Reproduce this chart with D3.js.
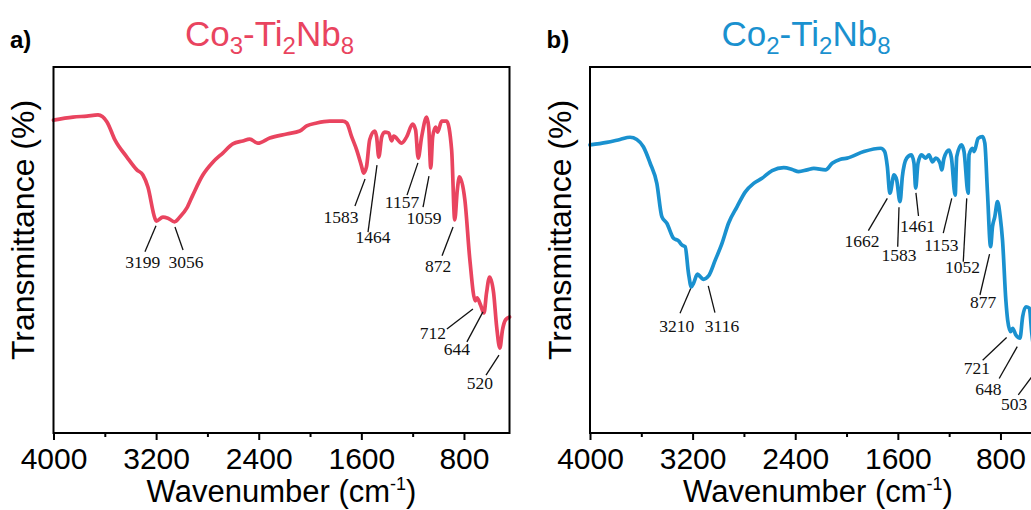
<!DOCTYPE html>
<html>
<head>
<meta charset="utf-8">
<script src="https://cdn.jsdelivr.net/npm/d3@7"></script>
<style>
  body { margin: 0; background: #fff; }
  svg { display: block; }
</style>
</head>
<body>
<svg id="chart" width="1031" height="510"></svg>
<script>
// FTIR spectra of Co3-Ti2Nb8 and Co2-Ti2Nb8

const xTicks = [4000, 3200, 2400, 1600, 800];
const xMinorTicks = [3600, 2800, 2000, 1200];

// Co3-Ti2Nb8 spectrum
const wavenumberA = [4000, 3848, 3739, 3653, 3583, 3521, 3428, 3350, 3303, 3264, 3210, 3199, 3147, 3108, 3056,
  3015, 2960, 2914, 2836, 2758, 2680, 2602, 2524, 2470, 2407, 2314, 2182, 2080, 2026, 1948, 1847, 1746, 1714,
  1675, 1636, 1597, 1583, 1560, 1535, 1496, 1481, 1464, 1441, 1418, 1387, 1364, 1348, 1286, 1247, 1200, 1177,
  1157, 1130, 1091, 1075, 1059, 1044, 1021, 1005, 974, 935, 896, 872, 852, 835, 793, 754, 712, 698, 671, 644,
  624, 600, 569, 545, 520, 500, 476, 445];
const transmittanceA = [85.5, 86.3, 86.6, 86.9, 85.0, 80.1, 75.4, 71.9, 70.5, 67.2, 58.7, 57.9, 59.0, 58.7, 57.7,
  59.0, 61.5, 65.0, 70.5, 74.0, 76.5, 79.0, 79.8, 80.3, 79.2, 80.6, 81.7, 82.5, 83.9, 84.7, 85.2, 85.2, 84.7,
  80.9, 77.3, 72.7, 71.0, 72.7, 80.1, 82.5, 80.9, 75.4, 80.9, 82.2, 82.0, 79.8, 81.1, 79.2, 80.9, 84.4, 82.8,
  75.1, 80.9, 86.3, 83.6, 72.4, 80.9, 83.6, 82.2, 85.2, 85.2, 77.3, 58.2, 66.4, 70.0, 63.7, 47.3, 36.1, 36.9, 35.0, 32.8,
  38.3, 42.6, 38.3, 29.0, 23.2, 28.1, 30.9, 31.7];
const peakLabelsA = [3199, 3056, 1583, 1464, 1157, 1059, 872, 712, 644, 520];

// Co2-Ti2Nb8 spectrum
const wavenumberB = [4000, 3870, 3766, 3688, 3635, 3584, 3531, 3479, 3440, 3401, 3349, 3310, 3284, 3258, 3232,
  3210, 3193, 3162, 3135, 3116, 3076, 3023, 2971, 2920, 2854, 2789, 2724, 2659, 2580, 2490, 2424, 2373, 2307,
  2255, 2164, 2112, 2047, 1995, 1865, 1734, 1703, 1682, 1662, 1630, 1609, 1583, 1565, 1531, 1495, 1474, 1461,
  1443, 1416, 1383, 1357, 1330, 1305, 1271, 1258, 1240, 1201, 1182, 1153, 1141, 1104, 1084, 1052, 1045, 1018,
  1005, 974, 940, 922, 901, 877, 862, 844, 823, 802, 784, 758, 744, 721, 705, 680, 648, 627, 601, 575, 556,
  530, 503, 480, 445];
const transmittanceB = [78.7, 79.4, 80.2, 80.8, 80.2, 78.2, 73.7, 68.2, 59.1, 57.3, 53.2, 52.5, 51.4, 50.9, 43.6,
  39.9, 40.9, 43.4, 42.5, 42.0, 42.9, 47.3, 51.8, 57.3, 61.8, 65.9, 68.2, 69.6, 71.7, 72.5, 72.0, 71.4, 71.9,
  72.3, 71.9, 73.7, 74.8, 75.1, 76.9, 77.8, 76.9, 72.8, 65.5, 70.5, 69.1, 63.2, 70.0, 75.1, 76.0, 73.7, 66.9,
  73.7, 76.0, 75.1, 76.0, 74.1, 75.1, 73.7, 71.9, 75.1, 77.3, 75.1, 65.0, 75.5, 78.7, 76.9, 65.5, 76.0, 77.8,
  76.9, 80.5, 81.0, 79.2, 65.5, 50.9, 56.4, 59.1, 63.2, 59.1, 52.7, 36.3, 30.9, 27.7, 28.6, 26.8, 25.9, 31.8, 34.5, 34.1, 27.3,
  21.0, 18.5, 24.0, 27.0];
const peakLabelsB = [3210, 3116, 1662, 1583, 1461, 1153, 1052, 877, 721, 648, 503];

// Callout layout in data units: leader [w1, t1] -> [w2, t2], label baseline centred at [wt, tt]
const calloutLayoutA = [
  [3201, 56.6, 3287, 49.5, 3305, 45.1],
  [3053, 56.3, 2990, 50.0, 2967, 45.1],
  [1571, 69.4, 1650, 62.0, 1759, 57.4],
  [1478, 73.2, 1548, 54.9, 1509, 51.9],
  [1159, 73.8, 1244, 65.0, 1283, 61.5],
  [1073, 70.2, 1119, 61.7, 1111, 57.1],
  [885, 56.3, 971, 48.4, 1002, 44.0],
  [730, 33.9, 933, 28.4, 1042, 25.7],
  [652, 33.1, 777, 24.9, 855, 21.3],
  [527, 21.3, 628, 15.8, 675, 12.0]
];
const calloutLayoutB = [
  [3215, 39.5, 3298, 32.7, 3324, 27.6],
  [3078, 40.2, 3026, 32.9, 2971, 27.6],
  [1682, 64.1, 1830, 55.3, 1880, 50.9],
  [1591, 61.7, 1601, 50.9, 1591, 47.1],
  [1459, 65.6, 1439, 59.3, 1447, 54.9],
  [1180, 64.1, 1246, 54.6, 1261, 49.8],
  [1063, 64.1, 1090, 46.8, 1096, 43.7],
  [885, 48.9, 960, 37.7, 936, 34.2],
  [752, 26.1, 939, 19.9, 983, 16.1],
  [669, 23.6, 810, 14.9, 894, 10.4],
  [523, 16.9, 661, 10.4, 694, 6.3]
];

const panels = [
  { letter: "a)", left: 53.5, color: "#E9445F", sub: "3",
    w: wavenumberA, t: transmittanceA, peaks: peakLabelsA, callouts: calloutLayoutA },
  { letter: "b)", left: 590, color: "#1A91CF", sub: "2",
    w: wavenumberB, t: transmittanceB, peaks: peakLabelsB, callouts: calloutLayoutB }
];

const plotTop = 67, plotBottom = 433, plotW = 456;
const svg = d3.select("#chart");
const sans = "Arial, 'Liberation Sans', sans-serif";
const serif = "'Times New Roman', 'Liberation Serif', serif";

panels.forEach(p => {
  const x = d3.scaleLinear().domain([4000, 445]).range([p.left, p.left + plotW]);
  const y = d3.scaleLinear().domain([0, 100]).range([plotBottom, plotTop]);
  const g = svg.append("g");

  // spectrum
  const pts = p.w.map((w, i) => [w, p.t[i]]);
  g.append("path")
    .datum(pts)
    .attr("fill", "none")
    .attr("stroke", p.color)
    .attr("stroke-width", 3.7)
    .attr("stroke-linejoin", "round")
    .attr("stroke-linecap", "round")
    .attr("d", d3.line().x(d => x(d[0])).y(d => y(d[1])).curve(d3.curveMonotoneX));

  // peak callouts
  p.peaks.forEach((pk, i) => {
    const c = p.callouts[i];
    g.append("line")
      .attr("x1", x(c[0])).attr("y1", y(c[1]))
      .attr("x2", x(c[2])).attr("y2", y(c[3]))
      .attr("stroke", "#111").attr("stroke-width", 1.3);
    g.append("text")
      .attr("x", x(c[4])).attr("y", y(c[5]))
      .attr("text-anchor", "middle")
      .attr("font-family", serif).attr("font-size", 17.5).attr("fill", "#111")
      .text(pk);
  });

  // major and minor ticks on the bottom axis
  const ax = g.append("g").attr("transform", `translate(0,${plotBottom})`)
    .call(d3.axisBottom(x).tickValues(xTicks).tickSize(7).tickPadding(7.5).tickFormat(d3.format("d")));
  ax.select(".domain").remove();
  ax.selectAll(".tick line").attr("stroke", "#000").attr("stroke-width", 2);
  ax.selectAll(".tick text").attr("font-family", sans).attr("font-size", 30).attr("fill", "#000");

  const axm = g.append("g").attr("transform", `translate(0,${plotBottom})`)
    .call(d3.axisBottom(x).tickValues(xMinorTicks).tickSize(4).tickFormat(""));
  axm.select(".domain").remove();
  axm.selectAll(".tick line").attr("stroke", "#000").attr("stroke-width", 2);

  // frame
  g.append("rect")
    .attr("x", p.left).attr("y", plotTop)
    .attr("width", plotW).attr("height", plotBottom - plotTop)
    .attr("fill", "none").attr("stroke", "#000").attr("stroke-width", 2);

  // x-axis title
  const xt = g.append("text")
    .attr("x", p.left + plotW / 2).attr("y", 502)
    .attr("text-anchor", "middle")
    .attr("font-family", sans).attr("font-size", 31).attr("fill", "#000");
  xt.append("tspan").text("Wavenumber (cm");
  xt.append("tspan").attr("font-size", 18).attr("dy", -12).text("-1");
  xt.append("tspan").attr("dy", 12).text(")");

  // y-axis title
  g.append("text")
    .attr("transform", `translate(${p.left - 19.5},230) rotate(-90)`)
    .attr("text-anchor", "middle")
    .attr("font-family", sans).attr("font-size", 32).attr("fill", "#000")
    .text("Transmittance (%)");

  // panel letter
  g.append("text")
    .attr("x", p.left - 43.5).attr("y", 48)
    .attr("font-family", sans).attr("font-size", 24).attr("font-weight", "bold").attr("fill", "#000")
    .text(p.letter);

  // sample title with subscripts
  const tt = g.append("text")
    .attr("x", p.left + 216).attr("y", 46)
    .attr("text-anchor", "middle")
    .attr("font-family", sans).attr("font-size", 35).attr("fill", p.color);
  tt.append("tspan").text("Co");
  tt.append("tspan").attr("font-size", 24).attr("dy", 8).text(p.sub);
  tt.append("tspan").attr("dy", -8).text("-Ti");
  tt.append("tspan").attr("font-size", 24).attr("dy", 8).text("2");
  tt.append("tspan").attr("dy", -8).text("Nb");
  tt.append("tspan").attr("font-size", 24).attr("dy", 8).text("8");
});
</script>
</body>
</html>
